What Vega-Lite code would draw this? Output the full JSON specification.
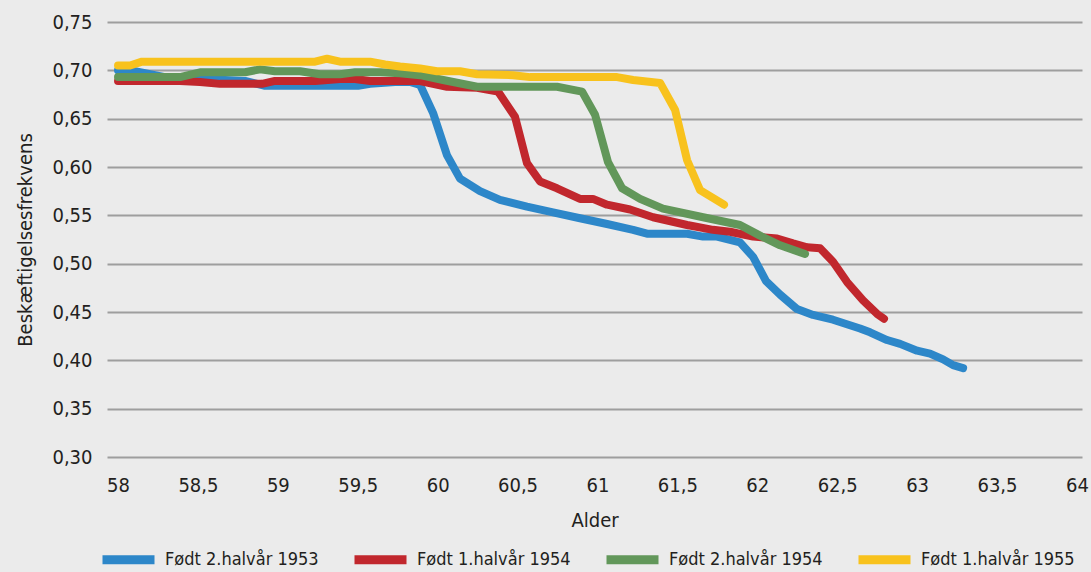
{
  "$schema": "https://vega.github.io/schema/vega-lite/v6.json",
  "width": 975,
  "height": 435,
  "autosize": {"type": "none"},
  "padding": {"left": 107, "top": 22, "right": 9, "bottom": 115},
  "background": "#ebebeb",
  "config": {
    "view": {"stroke": null},
    "font": "DejaVu Sans Condensed, sans-serif"
  },
  "data": {
    "values": [
      {"serie": "Født 2.halvår 1953", "age": 58.000, "v": 0.700},
      {"serie": "Født 2.halvår 1953", "age": 58.106, "v": 0.699},
      {"serie": "Født 2.halvår 1953", "age": 58.200, "v": 0.696},
      {"serie": "Født 2.halvår 1953", "age": 58.325, "v": 0.692},
      {"serie": "Født 2.halvår 1953", "age": 58.451, "v": 0.690},
      {"serie": "Født 2.halvår 1953", "age": 58.670, "v": 0.690},
      {"serie": "Født 2.halvår 1953", "age": 58.795, "v": 0.689},
      {"serie": "Født 2.halvår 1953", "age": 58.920, "v": 0.684},
      {"serie": "Født 2.halvår 1953", "age": 59.502, "v": 0.684},
      {"serie": "Født 2.halvår 1953", "age": 59.577, "v": 0.686},
      {"serie": "Født 2.halvår 1953", "age": 59.733, "v": 0.688},
      {"serie": "Født 2.halvår 1953", "age": 59.827, "v": 0.688},
      {"serie": "Født 2.halvår 1953", "age": 59.890, "v": 0.685},
      {"serie": "Født 2.halvår 1953", "age": 59.971, "v": 0.656},
      {"serie": "Født 2.halvår 1953", "age": 60.059, "v": 0.612},
      {"serie": "Født 2.halvår 1953", "age": 60.140, "v": 0.588},
      {"serie": "Født 2.halvår 1953", "age": 60.265, "v": 0.575},
      {"serie": "Født 2.halvår 1953", "age": 60.390, "v": 0.566},
      {"serie": "Født 2.halvår 1953", "age": 60.559, "v": 0.559},
      {"serie": "Født 2.halvår 1953", "age": 60.722, "v": 0.553},
      {"serie": "Født 2.halvår 1953", "age": 60.891, "v": 0.547},
      {"serie": "Født 2.halvår 1953", "age": 61.060, "v": 0.541},
      {"serie": "Født 2.halvår 1953", "age": 61.223, "v": 0.535},
      {"serie": "Født 2.halvår 1953", "age": 61.310, "v": 0.531},
      {"serie": "Født 2.halvår 1953", "age": 61.561, "v": 0.531},
      {"serie": "Født 2.halvår 1953", "age": 61.661, "v": 0.528},
      {"serie": "Født 2.halvår 1953", "age": 61.748, "v": 0.528},
      {"serie": "Født 2.halvår 1953", "age": 61.892, "v": 0.522},
      {"serie": "Født 2.halvår 1953", "age": 61.974, "v": 0.507},
      {"serie": "Født 2.halvår 1953", "age": 62.055, "v": 0.482},
      {"serie": "Født 2.halvår 1953", "age": 62.143, "v": 0.468},
      {"serie": "Født 2.halvår 1953", "age": 62.249, "v": 0.453},
      {"serie": "Født 2.halvår 1953", "age": 62.349, "v": 0.447},
      {"serie": "Født 2.halvår 1953", "age": 62.474, "v": 0.442},
      {"serie": "Født 2.halvår 1953", "age": 62.643, "v": 0.433},
      {"serie": "Født 2.halvår 1953", "age": 62.706, "v": 0.429},
      {"serie": "Født 2.halvår 1953", "age": 62.812, "v": 0.421},
      {"serie": "Født 2.halvår 1953", "age": 62.894, "v": 0.417},
      {"serie": "Født 2.halvår 1953", "age": 63.000, "v": 0.410},
      {"serie": "Født 2.halvår 1953", "age": 63.081, "v": 0.407},
      {"serie": "Født 2.halvår 1953", "age": 63.163, "v": 0.401},
      {"serie": "Født 2.halvår 1953", "age": 63.225, "v": 0.395},
      {"serie": "Født 2.halvår 1953", "age": 63.288, "v": 0.392},

      {"serie": "Født 1.halvår 1954", "age": 58.000, "v": 0.689},
      {"serie": "Født 1.halvår 1954", "age": 58.388, "v": 0.689},
      {"serie": "Født 1.halvår 1954", "age": 58.513, "v": 0.688},
      {"serie": "Født 1.halvår 1954", "age": 58.638, "v": 0.686},
      {"serie": "Født 1.halvår 1954", "age": 58.901, "v": 0.686},
      {"serie": "Født 1.halvår 1954", "age": 58.982, "v": 0.689},
      {"serie": "Født 1.halvår 1954", "age": 59.233, "v": 0.689},
      {"serie": "Født 1.halvår 1954", "age": 59.389, "v": 0.691},
      {"serie": "Født 1.halvår 1954", "age": 59.483, "v": 0.691},
      {"serie": "Født 1.halvår 1954", "age": 59.577, "v": 0.689},
      {"serie": "Født 1.halvår 1954", "age": 59.890, "v": 0.689},
      {"serie": "Født 1.halvår 1954", "age": 60.059, "v": 0.683},
      {"serie": "Født 1.halvår 1954", "age": 60.247, "v": 0.682},
      {"serie": "Født 1.halvår 1954", "age": 60.378, "v": 0.678},
      {"serie": "Født 1.halvår 1954", "age": 60.484, "v": 0.652},
      {"serie": "Født 1.halvår 1954", "age": 60.559, "v": 0.604},
      {"serie": "Født 1.halvår 1954", "age": 60.641, "v": 0.585},
      {"serie": "Født 1.halvår 1954", "age": 60.747, "v": 0.578},
      {"serie": "Født 1.halvår 1954", "age": 60.891, "v": 0.567},
      {"serie": "Født 1.halvår 1954", "age": 60.972, "v": 0.567},
      {"serie": "Født 1.halvår 1954", "age": 61.060, "v": 0.561},
      {"serie": "Født 1.halvår 1954", "age": 61.204, "v": 0.556},
      {"serie": "Født 1.halvår 1954", "age": 61.348, "v": 0.548},
      {"serie": "Født 1.halvår 1954", "age": 61.561, "v": 0.540},
      {"serie": "Født 1.halvår 1954", "age": 61.723, "v": 0.535},
      {"serie": "Født 1.halvår 1954", "age": 61.830, "v": 0.533},
      {"serie": "Født 1.halvår 1954", "age": 61.974, "v": 0.528},
      {"serie": "Født 1.halvår 1954", "age": 62.124, "v": 0.526},
      {"serie": "Født 1.halvår 1954", "age": 62.224, "v": 0.521},
      {"serie": "Født 1.halvår 1954", "age": 62.312, "v": 0.517},
      {"serie": "Født 1.halvår 1954", "age": 62.393, "v": 0.516},
      {"serie": "Født 1.halvår 1954", "age": 62.474, "v": 0.502},
      {"serie": "Født 1.halvår 1954", "age": 62.562, "v": 0.481},
      {"serie": "Født 1.halvår 1954", "age": 62.662, "v": 0.462},
      {"serie": "Født 1.halvår 1954", "age": 62.750, "v": 0.448},
      {"serie": "Født 1.halvår 1954", "age": 62.793, "v": 0.443},

      {"serie": "Født 2.halvår 1954", "age": 58.000, "v": 0.693},
      {"serie": "Født 2.halvår 1954", "age": 58.388, "v": 0.693},
      {"serie": "Født 2.halvår 1954", "age": 58.513, "v": 0.698},
      {"serie": "Født 2.halvår 1954", "age": 58.795, "v": 0.698},
      {"serie": "Født 2.halvår 1954", "age": 58.889, "v": 0.701},
      {"serie": "Født 2.halvår 1954", "age": 58.982, "v": 0.699},
      {"serie": "Født 2.halvår 1954", "age": 59.139, "v": 0.699},
      {"serie": "Født 2.halvår 1954", "age": 59.264, "v": 0.696},
      {"serie": "Født 2.halvår 1954", "age": 59.389, "v": 0.696},
      {"serie": "Født 2.halvår 1954", "age": 59.483, "v": 0.698},
      {"serie": "Født 2.halvår 1954", "age": 59.640, "v": 0.698},
      {"serie": "Født 2.halvår 1954", "age": 59.765, "v": 0.697},
      {"serie": "Født 2.halvår 1954", "age": 59.890, "v": 0.695},
      {"serie": "Født 2.halvår 1954", "age": 60.034, "v": 0.690},
      {"serie": "Født 2.halvår 1954", "age": 60.247, "v": 0.683},
      {"serie": "Født 2.halvår 1954", "age": 60.747, "v": 0.683},
      {"serie": "Født 2.halvår 1954", "age": 60.904, "v": 0.678},
      {"serie": "Født 2.halvår 1954", "age": 60.985, "v": 0.654},
      {"serie": "Født 2.halvår 1954", "age": 61.066, "v": 0.605},
      {"serie": "Født 2.halvår 1954", "age": 61.154, "v": 0.578},
      {"serie": "Født 2.halvår 1954", "age": 61.267, "v": 0.567},
      {"serie": "Født 2.halvår 1954", "age": 61.410, "v": 0.557},
      {"serie": "Født 2.halvår 1954", "age": 61.661, "v": 0.548},
      {"serie": "Født 2.halvår 1954", "age": 61.892, "v": 0.540},
      {"serie": "Født 2.halvår 1954", "age": 62.017, "v": 0.529},
      {"serie": "Født 2.halvår 1954", "age": 62.143, "v": 0.519},
      {"serie": "Født 2.halvår 1954", "age": 62.299, "v": 0.510},

      {"serie": "Født 1.halvår 1955", "age": 58.000, "v": 0.705},
      {"serie": "Født 1.halvår 1955", "age": 58.075, "v": 0.705},
      {"serie": "Født 1.halvår 1955", "age": 58.150, "v": 0.709},
      {"serie": "Født 1.halvår 1955", "age": 59.233, "v": 0.709},
      {"serie": "Født 1.halvår 1955", "age": 59.308, "v": 0.712},
      {"serie": "Født 1.halvår 1955", "age": 59.389, "v": 0.709},
      {"serie": "Født 1.halvår 1955", "age": 59.577, "v": 0.709},
      {"serie": "Født 1.halvår 1955", "age": 59.671, "v": 0.706},
      {"serie": "Født 1.halvår 1955", "age": 59.765, "v": 0.704},
      {"serie": "Født 1.halvår 1955", "age": 59.890, "v": 0.702},
      {"serie": "Født 1.halvår 1955", "age": 59.996, "v": 0.699},
      {"serie": "Født 1.halvår 1955", "age": 60.140, "v": 0.699},
      {"serie": "Født 1.halvår 1955", "age": 60.247, "v": 0.696},
      {"serie": "Født 1.halvår 1955", "age": 60.472, "v": 0.695},
      {"serie": "Født 1.halvår 1955", "age": 60.578, "v": 0.693},
      {"serie": "Født 1.halvår 1955", "age": 61.123, "v": 0.693},
      {"serie": "Født 1.halvår 1955", "age": 61.223, "v": 0.690},
      {"serie": "Født 1.halvår 1955", "age": 61.392, "v": 0.687},
      {"serie": "Født 1.halvår 1955", "age": 61.486, "v": 0.659},
      {"serie": "Født 1.halvår 1955", "age": 61.561, "v": 0.607},
      {"serie": "Født 1.halvår 1955", "age": 61.642, "v": 0.576},
      {"serie": "Født 1.halvår 1955", "age": 61.792, "v": 0.561}
    ]
  },
  "encoding": {
    "x": {
      "field": "age",
      "type": "quantitative",
      "scale": {"domain": [57.931, 64.032], "nice": false, "zero": false},
      "axis": {
        "values": [58, 58.5, 59, 59.5, 60, 60.5, 61, 61.5, 62, 62.5, 63, 63.5, 64],
        "labelExpr": "replace(format(datum.value, '.1~f'), '.', ',')",
        "grid": false,
        "ticks": false,
        "domain": false,
        "labelPadding": 18,
        "labelFontSize": 20,
        "labelColor": "#231f20",
        "title": "Alder",
        "titleFontSize": 20,
        "titleFontWeight": "normal",
        "titleColor": "#231f20",
        "titlePadding": 15
      }
    },
    "y": {
      "field": "v",
      "type": "quantitative",
      "scale": {"domain": [0.3, 0.75], "nice": false, "zero": false},
      "axis": {
        "values": [0.3, 0.35, 0.4, 0.45, 0.5, 0.55, 0.6, 0.65, 0.7, 0.75],
        "labelExpr": "replace(format(datum.value, '.2f'), '.', ',')",
        "grid": true,
        "gridColor": "#9e9e9e",
        "gridWidth": 2,
        "ticks": false,
        "domain": false,
        "labelPadding": 15,
        "labelFontSize": 20,
        "labelColor": "#231f20",
        "title": "Beskæftigelsesfrekvens",
        "titleFontSize": 20,
        "titleFontWeight": "normal",
        "titleColor": "#231f20",
        "titlePadding": 16
      }
    },
    "color": {
      "field": "serie",
      "type": "nominal",
      "scale": {
        "domain": ["Født 2.halvår 1953", "Født 1.halvår 1954", "Født 2.halvår 1954", "Født 1.halvår 1955"],
        "range": ["#2d87c9", "#c1272d", "#62975a", "#f8c21d"]
      },
      "legend": {
        "orient": "none",
        "legendX": -9,
        "legendY": 507,
        "direction": "horizontal",
        "columns": 4,
        "title": null,
        "symbolType": "stroke",
        "symbolSize": 2704,
        "symbolStrokeWidth": 9,
        "labelFontSize": 18,
        "labelColor": "#231f20",
        "labelOffset": 6,
        "labelLimit": 0,
        "columnPadding": 17
      }
    }
  },
  "layer": [
    {"transform": [{"filter": "datum.serie === 'Født 2.halvår 1953'"}], "mark": {"type": "line", "strokeWidth": 8, "strokeCap": "round", "strokeJoin": "round"}},
    {"transform": [{"filter": "datum.serie === 'Født 1.halvår 1954'"}], "mark": {"type": "line", "strokeWidth": 8, "strokeCap": "round", "strokeJoin": "round"}},
    {"transform": [{"filter": "datum.serie === 'Født 2.halvår 1954'"}], "mark": {"type": "line", "strokeWidth": 8, "strokeCap": "round", "strokeJoin": "round"}},
    {"transform": [{"filter": "datum.serie === 'Født 1.halvår 1955'"}], "mark": {"type": "line", "strokeWidth": 8, "strokeCap": "round", "strokeJoin": "round"}}
  ]
}
